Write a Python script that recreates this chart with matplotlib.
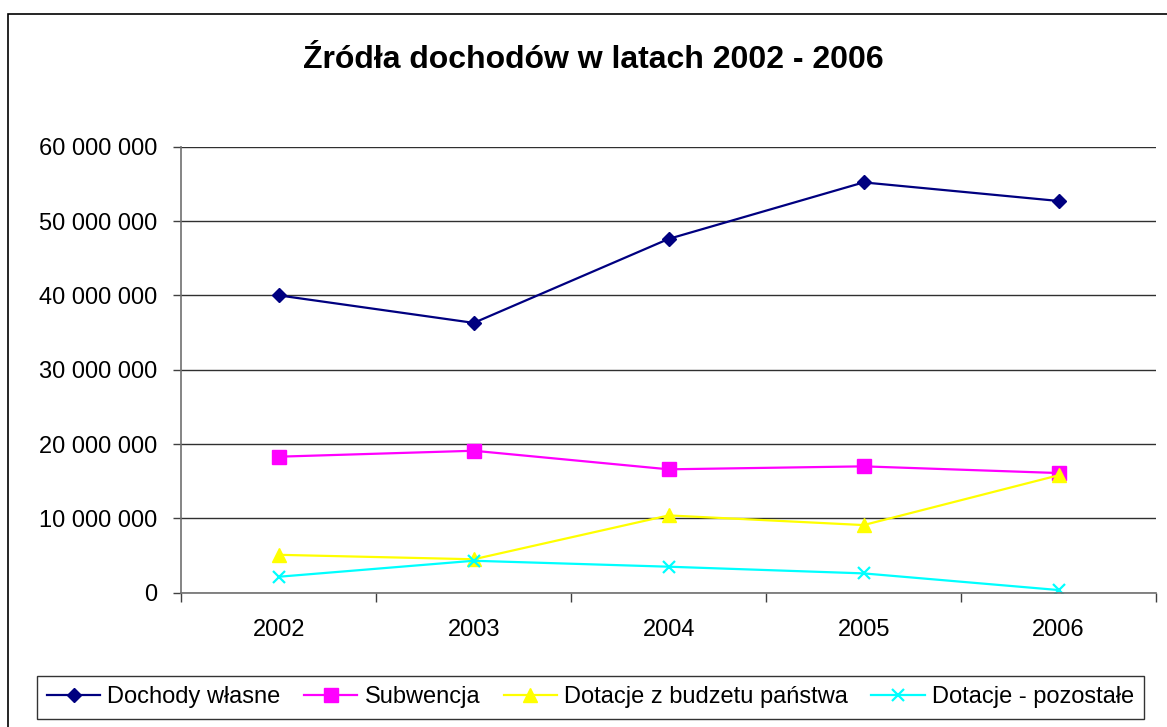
import matplotlib
matplotlib.use("Agg")
import matplotlib.pyplot as plt
from matplotlib.patches import Rectangle
from matplotlib.ticker import FuncFormatter, FixedLocator
import numpy as np

plt.rcParams['font.family'] = ['Liberation Sans', 'DejaVu Sans']

lata = ['2002', '2003', '2004', '2005', '2006']
dochody_wlasne = [40.0e6, 36.3e6, 47.6e6, 55.2e6, 52.7e6]
subwencja = [18.3e6, 19.1e6, 16.6e6, 17.0e6, 16.1e6]
dotacje_budzet = [5.1e6, 4.5e6, 10.4e6, 9.1e6, 15.8e6]
dotacje_pozostale = [2.15e6, 4.3e6, 3.5e6, 2.6e6, 0.36e6]

fig = plt.figure(figsize=(11.67, 7.27), dpi=100)
ax = fig.add_axes([0.1554, 0.1847, 0.9906 - 0.1554, 0.7982 - 0.1847])

x = np.arange(len(lata))
ax.plot(x, dochody_wlasne, color='#000080', lw=1.6, marker='D', ms=7, label='Dochody własne')
ax.plot(x, subwencja, color='#FF00FF', lw=1.6, marker='s', ms=10, label='Subwencja')
ax.plot(x, dotacje_budzet, color='#FFFF00', lw=1.6, marker='^', ms=10, label='Dotacje z budzetu państwa')
ax.plot(x, dotacje_pozostale, color='#00FFFF', lw=1.6, marker='x', ms=9, mew=1.6, label='Dotacje - pozostałe')

ax.set_xlim(-0.5, 4.5)
ax.set_ylim(0, 60e6)
ax.set_yticks(np.arange(0, 60e6 + 1, 10e6))
ax.yaxis.set_major_formatter(FuncFormatter(lambda v, p: f"{v:,.0f}".replace(",", " ")))
ax.set_xticks(x)
ax.set_xticklabels(lata)
ax.xaxis.set_minor_locator(FixedLocator(np.arange(-0.5, 5, 1)))
ax.tick_params(axis='x', which='major', length=0, pad=19, labelsize=17)
ax.tick_params(axis='x', which='minor', length=6.5, width=1, color='#404040', direction='out')
ax.tick_params(axis='y', length=5.5, width=1, color='#404040', pad=12, labelsize=17)

ax.grid(axis='y', color='#303030', lw=1)
ax.set_axisbelow(True)
for s in ['top', 'right']:
    ax.spines[s].set_visible(False)
for s in ['left', 'bottom']:
    ax.spines[s].set_color('#707070')
    ax.spines[s].set_linewidth(1.2)

fig.text(0.5086, 1 - 60 / 727, 'Źródła dochodów w latach 2002 - 2006', ha='center', va='center',
         fontsize=23, fontweight='bold')

leg = fig.legend(loc='center', bbox_to_anchor=(0.506, 1 - 697.5 / 727), ncol=4, fontsize=17,
                 frameon=True, fancybox=False, edgecolor='black', handlelength=2.25,
                 handletextpad=0.3, columnspacing=1.0, borderpad=0.45, borderaxespad=0)
leg.get_frame().set_linewidth(1)

fig.patches.append(Rectangle((8 / 1167, -0.01), 1.0, 1 - 14 / 727 + 0.01, transform=fig.transFigure,
                             fill=False, edgecolor='black', lw=1.2))

fig.savefig('out.png', dpi=100)
